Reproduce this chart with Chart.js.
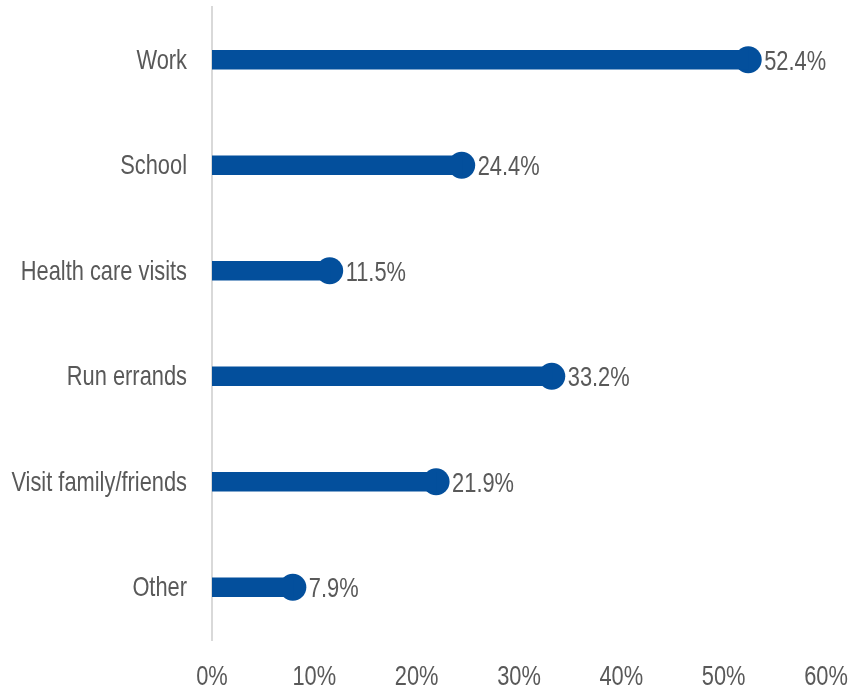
<!DOCTYPE html>
<html>
<head>
<meta charset="utf-8">
<script src="https://cdn.jsdelivr.net/npm/chart.js@4/dist/chart.umd.min.js"></script>
<style>
  html, body { margin: 0; padding: 0; background: #fff; }
  #wrap { width: 848px; height: 691px; }
</style>
</head>
<body>
<div id="wrap"><canvas id="trips"></canvas></div>
<script>
// trip purposes, share of respondents (%)
const purposes = ['Work', 'School', 'Health care visits', 'Run errands', 'Visit family/friends', 'Other']
const shares = [52.4, 24.4, 11.5, 33.2, 21.9, 7.9]
const xTicks = [0, 10, 20, 30, 40, 50, 60]

const BLUE = '#034F9C'
const TEXT = '#595959'
const FONT = "28px 'Liberation Sans', Arial, sans-serif"
const NARROW = 0.78   // horizontal squeeze for a condensed look
const DOT_R = 13.5

// condensed text: draw at (x, baseline y) with horizontal scaling
function narrowText(ctx, str, x, y, align) {
  ctx.save()
  ctx.translate(x, y)
  ctx.scale(NARROW, 1)
  ctx.textAlign = align
  ctx.textBaseline = 'alphabetic'
  ctx.fillText(str, 0, 0)
  ctx.restore()
}

// category names, x tick labels and value labels
const textLayer = {
  id: 'textLayer',
  afterDraw(chart) {
    const ctx = chart.ctx
    const xs = chart.scales.x
    const ys = chart.scales.y
    const dots = chart.getDatasetMeta(1).data
    ctx.save()
    ctx.font = FONT
    ctx.fillStyle = TEXT
    purposes.forEach((name, i) => {
      narrowText(ctx, name, ys.right - 25, ys.getPixelForTick(i) + 9, 'right')
    })
    xTicks.forEach((v) => {
      narrowText(ctx, v + '%', xs.getPixelForValue(v), xs.top + 45, 'center')
    })
    dots.forEach((pt, i) => {
      narrowText(ctx, shares[i].toFixed(1) + '%', pt.x + DOT_R + 2.5, pt.y + 10, 'left')
    })
    ctx.restore()
  }
}

new Chart(document.getElementById('trips'), {
  data: {
    labels: purposes,
    datasets: [
      {
        type: 'bar',
        data: shares,
        backgroundColor: BLUE,
        barThickness: 19,
        borderWidth: 0
      },
      {
        type: 'line',
        data: shares,
        showLine: false,
        clip: false,
        pointRadius: DOT_R,
        pointHoverRadius: DOT_R,
        pointBackgroundColor: BLUE,
        pointBorderWidth: 0
      }
    ]
  },
  options: {
    indexAxis: 'y',
    responsive: true,
    maintainAspectRatio: false,
    animation: false,
    layout: { autoPadding: false, padding: { top: 7, right: 22, left: 0, bottom: 0 } },
    plugins: {
      legend: { display: false },
      tooltip: { enabled: false }
    },
    scales: {
      x: {
        min: 0,
        max: 60,
        afterFit: (s) => { s.height = 51; s.paddingLeft = 0; s.paddingRight = 0 },
        grid: { display: false, drawTicks: false },
        border: { display: false },
        ticks: { display: false, stepSize: 10 }
      },
      y: {
        afterFit: (s) => { s.width = 212; s.paddingTop = 0; s.paddingBottom = 0 },
        grid: { display: false, drawTicks: false },
        border: { display: true, color: '#d9d9d9', width: 2 },
        ticks: { display: false }
      }
    }
  },
  plugins: [textLayer]
})
</script>
</body>
</html>
